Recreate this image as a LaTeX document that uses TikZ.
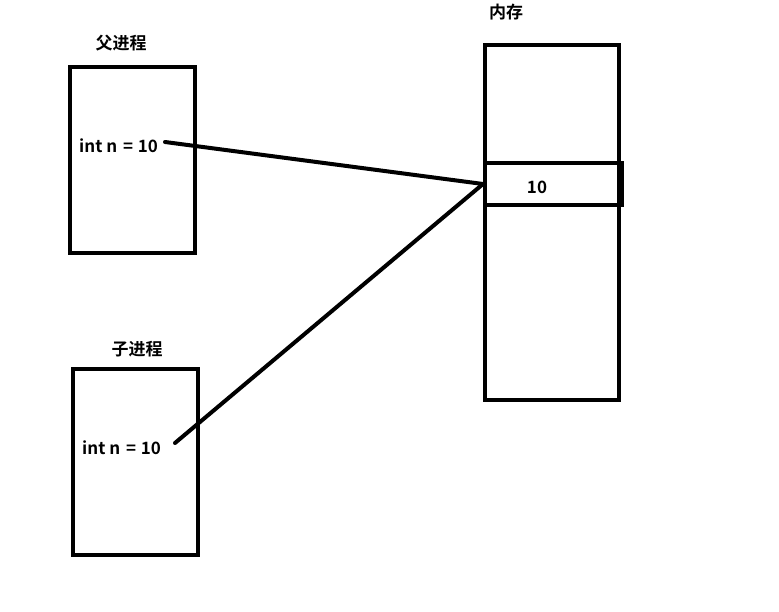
\documentclass[tikz,border=0pt]{standalone}
\usepackage{fontspec}
\setmainfont{Noto Sans CJK SC}[BoldFont={Noto Sans CJK SC Bold}]
\begin{document}
\begin{tikzpicture}[x=1pt,y=-1pt,
  box/.style={draw,line width=4pt,inner sep=0pt},
  lbl/.style={font=\bfseries\fontsize{17}{17}\selectfont,inner sep=0pt},
  link/.style={line width=4pt,line cap=round}]
\useasboundingbox (0,0) rectangle (779,612);
\node[box,minimum width=125pt,minimum height=186pt] (parent) at (132.5,160) {};
\node[box,minimum width=125pt,minimum height=186pt] (child) at (135.5,462) {};
\node[box,minimum width=134pt,minimum height=355pt] (mem) at (552,222.5) {};
\node[box,minimum width=137pt,minimum height=42pt] (cell) at (553.5,184) {};
\node[lbl] (plabel) at (121,43) {父进程};
\node[lbl] (clabel) at (137,349) {子进程};
\node[lbl] (mlabel) at (506,12) {内存};
\node[lbl,anchor=west] (ptext) at (79,146) {int n\hspace{2pt} = \hspace{1pt}10};
\node[lbl,anchor=west] (ctext) at (82,448) {int n\hspace{2pt} = \hspace{1pt}10};
\node[lbl] (cval) at (537,187) {10};
\coordinate (pend) at (165,142);
\coordinate (cend) at (175,443);
\draw[link] (pend) -- (cell.west);
\draw[link] (cend) -- (cell.west);
\end{tikzpicture}
\end{document}
